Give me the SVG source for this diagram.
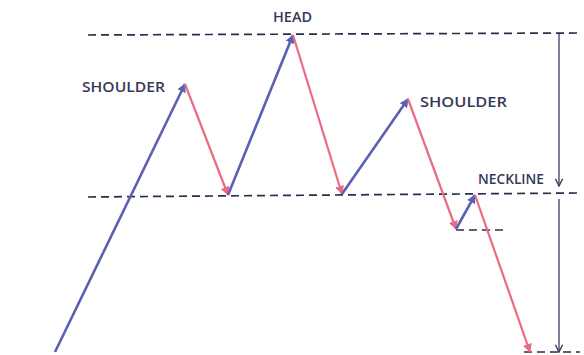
<svg xmlns="http://www.w3.org/2000/svg" width="584" height="355" viewBox="0 0 584 355">
<defs>
<style>
.dash{stroke:#2a2e4c;stroke-width:1.7;stroke-dasharray:8 5;fill:none}
.up{stroke:#5b60b4;stroke-width:2.6;fill:none}
.down{stroke:#ec6a84;stroke-width:2.2;fill:none}
.vert{stroke:#3a3d5e;stroke-width:1.3;fill:none}
.lbl{font-family:"Open Sans","Liberation Sans",sans-serif;fill:#363a58;font-size:15px;font-weight:600}
</style>
<marker id="ab" viewBox="0 0 10 10" refX="9" refY="5" markerWidth="9" markerHeight="9" markerUnits="userSpaceOnUse" orient="auto">
<path d="M0,0 L10,5 L0,10 Z" fill="#5b60b4"/>
</marker>
<marker id="ar" viewBox="0 0 10 10" refX="9" refY="5" markerWidth="9" markerHeight="9" markerUnits="userSpaceOnUse" orient="auto">
<path d="M0,0 L10,5 L0,10 Z" fill="#ec6a84"/>
</marker>
<marker id="av" viewBox="0 0 10 10" refX="9" refY="5" markerWidth="9" markerHeight="9" markerUnits="userSpaceOnUse" orient="auto">
<path d="M1,1 L9,5 L1,9" fill="none" stroke="#3a3d5e" stroke-width="1.6"/>
</marker>
</defs>
<rect width="584" height="355" fill="#ffffff"/>
<g id="guides">
<line class="dash" x1="88" y1="35" x2="580" y2="33"/>
<line class="dash" x1="88" y1="197" x2="580" y2="193"/>
<line class="dash" x1="456" y1="230" x2="506" y2="230"/>
<line class="dash" x1="524" y1="352" x2="580" y2="352"/>
</g>
<g id="connectors">
<line class="up" x1="55" y1="352" x2="185" y2="84" marker-end="url(#ab)"/>
<line class="down" x1="185" y1="84" x2="228" y2="195" marker-end="url(#ar)"/>
<line class="up" x1="228" y1="195" x2="293" y2="35" marker-end="url(#ab)"/>
<line class="down" x1="293" y1="35" x2="342" y2="194" marker-end="url(#ar)"/>
<line class="up" x1="342" y1="194" x2="408" y2="99" marker-end="url(#ab)"/>
<line class="down" x1="408" y1="99" x2="456" y2="229" marker-end="url(#ar)"/>
<line class="up" x1="456" y1="229" x2="475" y2="195" marker-end="url(#ab)"/>
<line class="down" x1="475" y1="195" x2="530" y2="352" marker-end="url(#ar)"/>
<line class="vert" x1="559" y1="34" x2="559" y2="186" marker-end="url(#av)"/>
<line class="vert" x1="559" y1="199" x2="559" y2="352" marker-end="url(#av)"/>
</g>
<g id="head"><text class="lbl" x="273" y="22" font-size="14" textLength="39" lengthAdjust="spacingAndGlyphs">HEAD</text></g>
<g id="left-shoulder"><text class="lbl" x="82" y="92" font-size="16" textLength="83" lengthAdjust="spacingAndGlyphs">SHOULDER</text></g>
<g id="right-shoulder"><text class="lbl" x="420" y="107" font-size="16" textLength="87" lengthAdjust="spacingAndGlyphs">SHOULDER</text></g>
<g id="neckline"><text class="lbl" x="478" y="184" font-size="14" textLength="66" lengthAdjust="spacingAndGlyphs">NECKLINE</text></g>
</svg>
